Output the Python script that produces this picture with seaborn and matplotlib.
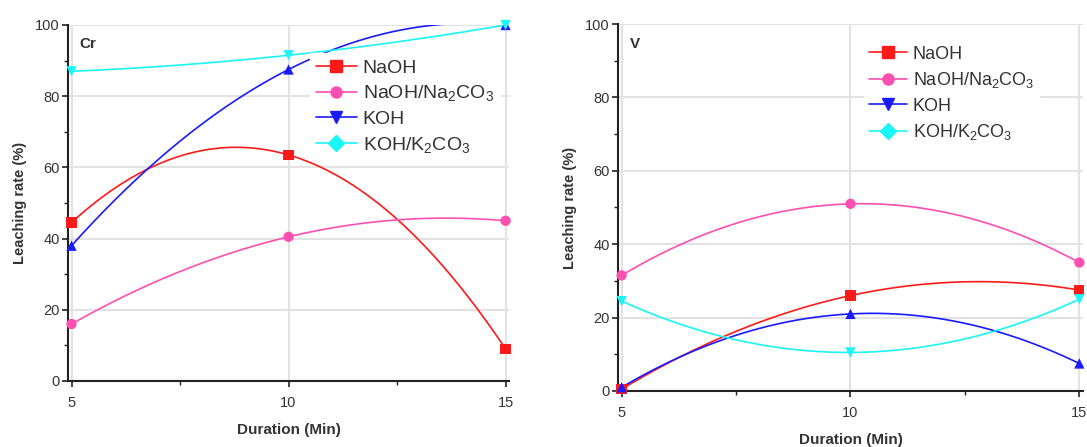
import numpy as np
import pandas as pd
import seaborn as sns
import matplotlib.pyplot as plt
from matplotlib.lines import Line2D

# data
duration = [5, 10, 15]
series = ["NaOH", "NaOH/Na2CO3", "KOH", "KOH/K2CO3"]
legend_labels = ["NaOH",
                 r"NaOH/Na$\mathregular{_2}$CO$\mathregular{_3}$",
                 "KOH",
                 r"KOH/K$\mathregular{_2}$CO$\mathregular{_3}$"]

cr_naoh = [44.5, 63.5, 9.0]
cr_naoh_na2co3 = [16.0, 40.5, 45.0]
cr_koh = [38.0, 87.5, 100.0]
cr_koh_k2co3 = [87.0, 91.5, 100.0]

v_naoh = [0.5, 26.0, 27.5]
v_naoh_na2co3 = [31.5, 51.0, 35.0]
v_koh = [1.0, 21.0, 7.5]
v_koh_k2co3 = [24.5, 10.5, 25.0]

colors = {"NaOH": "#ff1a1a", "NaOH/Na2CO3": "#ff4fb0",
          "KOH": "#1a1aff", "KOH/K2CO3": "#1af5f5"}
plot_markers = {"NaOH": "s", "NaOH/Na2CO3": "o", "KOH": "^", "KOH/K2CO3": "v"}
legend_markers = {"NaOH": "s", "NaOH/Na2CO3": "o", "KOH": "v", "KOH/K2CO3": "D"}

sns.set_style("white")
plt.rcParams["font.family"] = ["Liberation Sans", "DejaVu Sans"]
plt.rcParams["mathtext.fontset"] = "custom"
plt.rcParams["mathtext.rm"] = "Liberation Sans"


def make_frames(values):
    pts, smooth = [], []
    xs = np.linspace(duration[0], duration[-1], 200)
    for name, vals in zip(series, values):
        for x, y in zip(duration, vals):
            pts.append({"x": x, "y": y, "series": name})
        # Origin-style spline connection through the three points
        coef = np.polyfit(duration, vals, 2)
        for x, y in zip(xs, np.polyval(coef, xs)):
            smooth.append({"x": x, "y": y, "series": name})
    return pd.DataFrame(pts), pd.DataFrame(smooth)


def draw_panel(ax, values, tag, leg_anchor, leg_size, leg_space):
    pts, smooth = make_frames(values)
    sns.lineplot(data=smooth, x="x", y="y", hue="series", palette=colors,
                 lw=1.2, legend=False, ax=ax, zorder=3)
    sns.scatterplot(data=pts, x="x", y="y", hue="series", style="series",
                    palette=colors, markers=plot_markers, s=55, linewidth=0,
                    legend=False, ax=ax, zorder=4, clip_on=False)
    ax.set_xlim(4.92, 15.08)
    ax.set_ylim(0, 100)
    ax.set_xticks([5, 10, 15])
    ax.set_xticks([7.5, 12.5], minor=True)
    ax.set_yticks(range(0, 101, 20))
    ax.set_yticks(range(10, 100, 20), minor=True)
    ax.grid(True, which="major", color="#e3e3e3", lw=1.5, zorder=0)
    ax.set_axisbelow(True)
    for s in ["top", "right"]:
        ax.spines[s].set_visible(False)
    for s in ["left", "bottom"]:
        ax.spines[s].set_color("#222222")
        ax.spines[s].set_linewidth(1.5)
    ax.tick_params(axis="both", which="both", direction="out", color="#222222",
                   labelsize=10.5, labelcolor="#333333", left=True, bottom=True)
    ax.tick_params(which="major", length=4, width=1.2)
    ax.tick_params(which="minor", length=3, width=1)
    ax.tick_params(axis="x", which="major", pad=6.5)
    ax.tick_params(axis="y", which="major", pad=2)
    ax.set_xlabel("Duration (Min)", fontsize=11, fontweight="bold",
                  color="#333333", labelpad=10)
    ax.set_ylabel("Leaching rate (%)", fontsize=10.5, fontweight="bold",
                  color="#333333", labelpad=6)
    ax.text(0.025, 0.965, tag, transform=ax.transAxes, fontsize=11,
            fontweight="bold", color="#333333", va="top")
    handles = [Line2D([0], [0], color=colors[n], marker=legend_markers[n],
                      markersize=8, lw=1.2) for n in series]
    leg = ax.legend(handles, legend_labels, loc="upper left",
                    bbox_to_anchor=leg_anchor, frameon=True, fontsize=leg_size,
                    handlelength=2.1, handletextpad=0.3, labelspacing=leg_space,
                    borderpad=0.3, borderaxespad=0, fancybox=False)
    leg.get_frame().set_edgecolor("white")
    leg.get_frame().set_alpha(1)
    for t in leg.get_texts():
        t.set_color("#333333")
    leg.set_zorder(5)


fig = plt.figure(figsize=(10.87, 4.47), dpi=100)
ax1 = fig.add_axes([0.0626, 0.1477, 0.4057, 0.7964])
ax2 = fig.add_axes([0.5685, 0.1253, 0.4278, 0.821])

draw_panel(ax1, [cr_naoh, cr_naoh_na2co3, cr_koh, cr_koh_k2co3], "Cr",
           (0.549, 0.921), 14, 0.35)
draw_panel(ax2, [v_naoh, v_naoh_na2co3, v_koh, v_koh_k2co3], "V",
           (0.529, 0.956), 13, 0.42)

fig.savefig("out.png", dpi=100)
